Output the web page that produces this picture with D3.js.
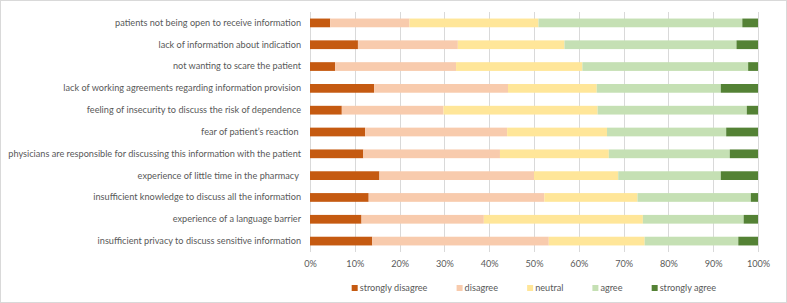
<!DOCTYPE html>
<html lang="en">
<head>
<meta charset="UTF-8">
<title>Barriers to information provision</title>
<script src="https://d3js.org/d3.v7.min.js"></script>
<style>
    body { margin: 0; background: #fff; }
    svg text { font-family: Lato, "Open Sans", sans-serif; fill: #595959; }
</style>
</head>
<body>
<div id="chart"></div>
<script>
    // Data (percent of respondents per answer)
    const categories = [
        'patients not being open to receive information',
        'lack of information about indication',
        'not wanting to scare the patient',
        'lack of working agreements regarding information provision',
        'feeling of insecurity to discuss the risk of dependence',
        'fear of patient\u2019s reaction ',
        'physicians are responsible for discussing this information with the patient',
        'experience of little time in the pharmacy ',
        'insufficient knowledge to discuss all the information',
        'experience of a language barrier',
        'insufficient privacy to discuss sensitive information'
    ];
    const stronglyDisagree = [4.5, 10.7, 5.6, 14.3, 7.1, 12.3, 11.9, 15.5, 13.1, 11.5, 13.9];
    const disagree         = [17.7, 22.3, 27.0, 29.9, 22.7, 31.7, 30.5, 34.5, 39.2, 27.3, 39.4];
    const neutral          = [28.8, 23.8, 28.2, 19.8, 34.4, 22.3, 24.3, 18.8, 20.8, 35.5, 21.4];
    const agree            = [45.5, 38.4, 37.0, 27.7, 33.3, 26.6, 27.0, 22.9, 25.3, 22.5, 20.9];
    const stronglyAgree    = [3.5, 4.8, 2.2, 8.3, 2.5, 7.1, 6.3, 8.3, 1.6, 3.2, 4.4];
    const seriesNames = ['strongly disagree', 'disagree', 'neutral', 'agree', 'strongly agree'];
    const xTicks = [0, 0.1, 0.2, 0.3, 0.4, 0.5, 0.6, 0.7, 0.8, 0.9, 1];

    const seriesValues = [stronglyDisagree, disagree, neutral, agree, stronglyAgree];
    const colors = ['#C55A11', '#F8CBAD', '#FFE699', '#C5E0B4', '#548235'];

    const width = 787, height = 303;
    const margin = { top: 12, right: 29, bottom: 51, left: 310 };
    const labelWidth = 293; // width of the longest category label in the original

    const rows = categories.map((c, i) => {
        const r = { cat: c };
        seriesNames.forEach((s, j) => { r[s] = seriesValues[j][i] / 100; });
        return r;
    });
    // normalise to 100%
    rows.forEach(r => {
        const tot = d3.sum(seriesNames, s => r[s]);
        seriesNames.forEach(s => { r[s] = r[s] / tot; });
    });

    const stacked = d3.stack().keys(seriesNames)(rows);

    const svg = d3.select('#chart').append('svg')
        .attr('width', width)
        .attr('height', height);

    // chart border
    svg.append('rect')
        .attr('x', 0.5).attr('y', 0.5)
        .attr('width', width - 1).attr('height', height - 1)
        .attr('fill', 'none')
        .attr('stroke', '#d9d9d9');

    const x = d3.scaleLinear()
        .domain([0, 1])
        .range([margin.left, width - margin.right]);

    const y = d3.scaleBand()
        .domain(categories)
        .range([margin.top, height - margin.bottom])
        .paddingInner(0.6)
        .paddingOuter(0.3);

    const color = d3.scaleOrdinal().domain(seriesNames).range(colors);

    // gridlines
    svg.append('g')
        .selectAll('line')
        .data(xTicks)
        .join('line')
        .attr('x1', d => Math.round(x(d)) + 0.5)
        .attr('x2', d => Math.round(x(d)) + 0.5)
        .attr('y1', margin.top)
        .attr('y2', height - margin.bottom)
        .attr('stroke', '#d9d9d9')
        .attr('stroke-width', 1);

    // bars
    svg.append('g')
        .selectAll('g')
        .data(stacked)
        .join('g')
        .attr('fill', d => color(d.key))
        .selectAll('rect')
        .data(d => d)
        .join('rect')
        .attr('x', d => x(d[0]))
        .attr('width', d => x(d[1]) - x(d[0]))
        .attr('y', d => y(d.data.cat))
        .attr('height', y.bandwidth());

    // y axis labels, sized so the longest label fits like the original
    const yAxis = svg.append('g')
        .attr('transform', `translate(${margin.left},0)`)
        .call(d3.axisLeft(y).tickSize(0).tickPadding(9));
    yAxis.select('.domain').remove();
    const yText = yAxis.selectAll('text')
        .style('font-size', '10px')
        .style('fill', '#595959')
        .style('white-space', 'pre')
        .style('font-family', 'Lato, sans-serif');
    const longest = d3.max(yText.nodes(), n => n.getComputedTextLength());
    const fontSize = 10 * labelWidth / longest;
    yText.style('font-size', fontSize + 'px');

    // x axis
    const xAxis = svg.append('g')
        .attr('transform', `translate(0,${height - margin.bottom})`)
        .call(d3.axisBottom(x).tickValues(xTicks).tickFormat(d3.format('.0%')).tickSize(0).tickPadding(9));
    xAxis.select('.domain').remove();
    xAxis.selectAll('text')
        .style('font-size', fontSize + 'px')
        .style('fill', '#595959')
        .style('font-family', 'Lato, sans-serif');

    // legend
    const legend = svg.append('g');
    const items = legend.selectAll('g')
        .data(seriesNames)
        .join('g');
    items.append('rect')
        .attr('width', 6).attr('height', 6)
        .attr('y', -5)
        .attr('fill', d => color(d));
    items.append('text')
        .attr('x', 8)
        .attr('y', 0)
        .attr('dy', '0.1em')
        .style('font-size', fontSize + 'px')
        .text(d => d);
    let offset = 0;
    items.each(function () {
        const w = this.getBBox().width;
        d3.select(this).attr('transform', `translate(${offset},0)`);
        offset += w + 29;
    });
    const legendWidth = offset - 29;
    legend.attr('transform', `translate(${(x(0) + x(1)) / 2 - legendWidth / 2},${290})`);
</script>
</body>
</html>
